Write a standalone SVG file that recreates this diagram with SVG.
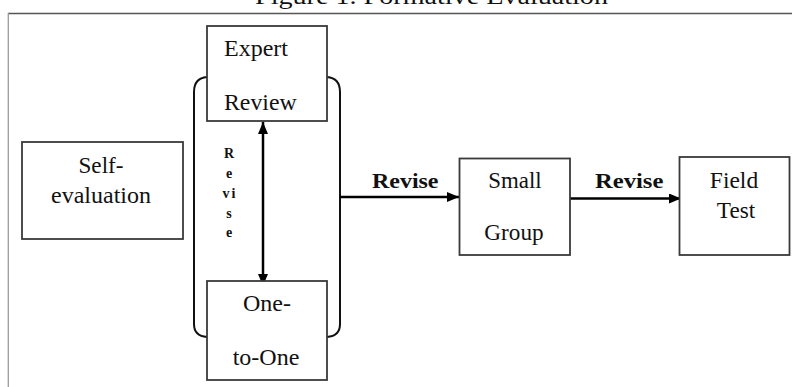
<svg xmlns="http://www.w3.org/2000/svg" width="792" height="387" viewBox="0 0 792 387">
  <style>
    .box { fill: #ffffff; stroke: #3a3a3a; stroke-width: 1.8; }
    .t { font-family: "Liberation Serif", "Times New Roman", serif; font-size: 23px; fill: #111111; }
    .c { text-anchor: middle; }
    .b { font-family: "Liberation Serif", "Times New Roman", serif; font-weight: bold; font-size: 22px; fill: #111111; }
    .vb { font-family: "Liberation Serif", "Times New Roman", serif; font-weight: bold; font-size: 14px; fill: #111111; text-anchor: middle; }
    .line { fill: none; stroke: #000000; stroke-width: 2.5; }
    .brk { fill: none; stroke: #111111; stroke-width: 2; }
    .frame { fill: none; stroke: #555555; stroke-width: 1.5; }
  </style>
  <defs>
    <marker id="arrow" viewBox="0 0 12 10" refX="12" refY="5" markerWidth="12" markerHeight="10" markerUnits="userSpaceOnUse" orient="auto-start-reverse">
      <path d="M0,0 L12,5 L0,10 Z" fill="#000000"/>
    </marker>
  </defs>
  <rect width="792" height="387" fill="#ffffff"/>

  <g id="title">
    <text class="t" x="255" y="4" font-size="26" textLength="353" lengthAdjust="spacingAndGlyphs">Figure 1. Formative Evaluation</text>
  </g>
  <g id="frame">
    <line class="frame" x1="8" y1="13.5" x2="792" y2="13.5"/>
    <line x1="8.3" y1="13" x2="8.3" y2="387" stroke="#9a9a9a" stroke-width="1.3"/>
  </g>

  <g id="bracket">
    <path class="brk" d="M207,77 Q194,78 194,92 L194,324 Q194,336 207,337"/>
    <path class="brk" d="M327,77 Q340,78 340,92 L340,324 Q340,336 327,337"/>
  </g>

  <g id="connectors">
    <line class="line" x1="263" y1="122" x2="263" y2="286" marker-start="url(#arrow)" marker-end="url(#arrow)"/>
    <line class="line" x1="340" y1="197" x2="459" y2="197" marker-end="url(#arrow)"/>
    <line class="line" x1="570" y1="198.5" x2="681" y2="198.5" marker-end="url(#arrow)"/>
    <text class="b" x="372" y="188" textLength="66.5" lengthAdjust="spacingAndGlyphs">Revise</text>
    <text class="b" x="595" y="188" textLength="68.3" lengthAdjust="spacingAndGlyphs">Revise</text>
    <g id="vertical-revise">
      <text class="vb" x="229" y="158">R</text>
      <text class="vb" x="229" y="178">e</text>
      <text class="vb" x="230" y="198" letter-spacing="2">vi</text>
      <text class="vb" x="229" y="218">s</text>
      <text class="vb" x="229" y="237">e</text>
    </g>
  </g>

  <g id="self-evaluation">
    <rect class="box" x="22" y="142" width="161" height="97"/>
    <text class="t c" x="101" y="172.5" textLength="45" lengthAdjust="spacingAndGlyphs">Self-</text>
    <text class="t c" x="101" y="203" textLength="100" lengthAdjust="spacingAndGlyphs">evaluation</text>
  </g>

  <g id="expert-review">
    <rect class="box" x="207" y="26" width="120" height="95"/>
    <text class="t" x="224" y="56" textLength="64" lengthAdjust="spacingAndGlyphs">Expert</text>
    <text class="t" x="224" y="110" textLength="72.7" lengthAdjust="spacingAndGlyphs">Review</text>
  </g>

  <g id="one-to-one">
    <rect class="box" x="207" y="281" width="120" height="99"/>
    <text class="t c" x="267" y="311" textLength="48" lengthAdjust="spacingAndGlyphs">One-</text>
    <text class="t c" x="266" y="365" textLength="66.7" lengthAdjust="spacingAndGlyphs">to-One</text>
  </g>

  <g id="small-group">
    <rect class="box" x="459.5" y="158.5" width="110.5" height="96.5"/>
    <text class="t c" x="515" y="188" textLength="53.4" lengthAdjust="spacingAndGlyphs">Small</text>
    <text class="t c" x="514" y="240" textLength="59.3" lengthAdjust="spacingAndGlyphs">Group</text>
  </g>

  <g id="field-test">
    <rect class="box" x="679.5" y="157" width="110" height="98"/>
    <text class="t c" x="734" y="188" textLength="48.3" lengthAdjust="spacingAndGlyphs">Field</text>
    <text class="t c" x="736" y="218" textLength="38.3" lengthAdjust="spacingAndGlyphs">Test</text>
  </g>
</svg>
